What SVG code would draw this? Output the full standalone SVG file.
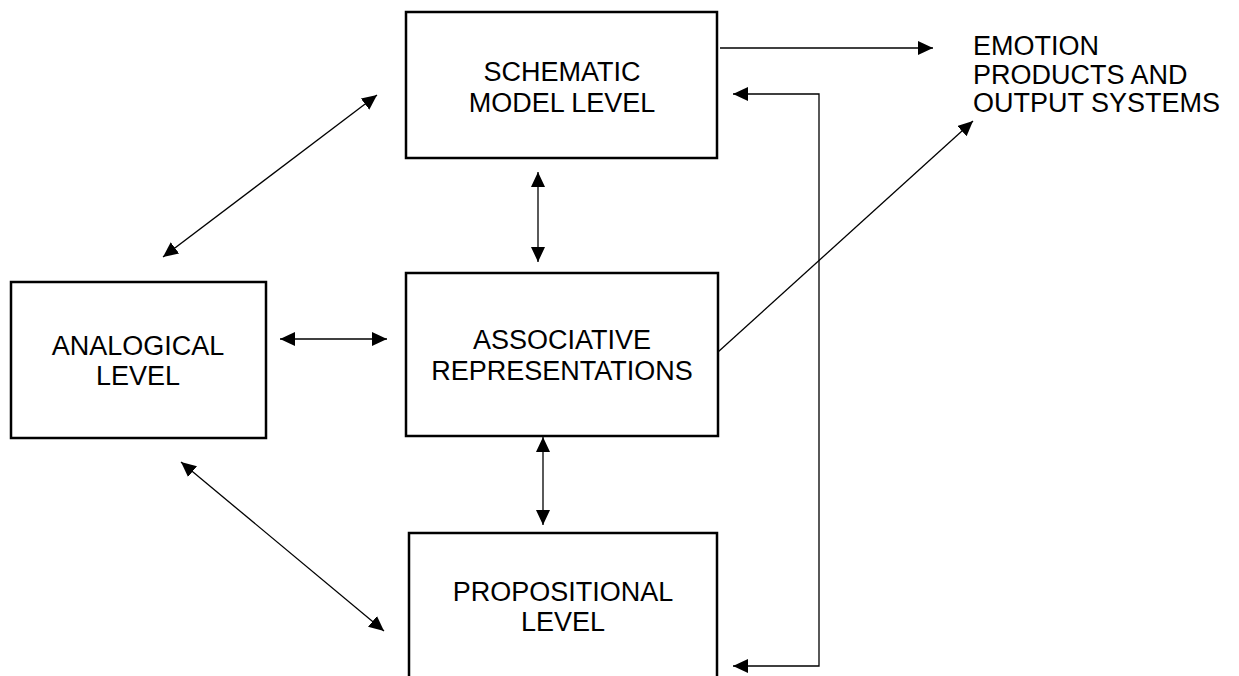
<svg xmlns="http://www.w3.org/2000/svg" width="1239" height="676" viewBox="0 0 1239 676">
  <style>
    .box { fill: #ffffff; stroke: #000000; stroke-width: 2.5; }
    .lbl { font-family: "Liberation Sans", Arial, sans-serif; font-size: 27px; fill: #000000; }
    .mid { text-anchor: middle; }
    .wire { fill: none; stroke: #000000; stroke-width: 1.3; }
  </style>
  <defs>
    <marker id="head" markerUnits="userSpaceOnUse" markerWidth="17" markerHeight="15" refX="15" refY="7" orient="auto-start-reverse">
      <path d="M0,0 L15,7 L0,14 z" fill="#000000"/>
    </marker>
  </defs>
  <rect width="1239" height="676" fill="#ffffff"/>

  <g id="connectors">
    <!-- schematic model level to emotion products -->
    <line class="wire" x1="720" y1="48" x2="933" y2="48" marker-end="url(#head)"/>
    <!-- associative representations to emotion products -->
    <line class="wire" x1="718" y1="352" x2="973" y2="121" marker-end="url(#head)"/>
    <!-- feedback loop from propositional to schematic -->
    <path class="wire" d="M733,666 H819 V94 H733" marker-start="url(#head)" marker-end="url(#head)"/>
    <!-- schematic <-> associative -->
    <line class="wire" x1="538" y1="172" x2="538" y2="262" marker-start="url(#head)" marker-end="url(#head)"/>
    <!-- associative <-> propositional -->
    <line class="wire" x1="543" y1="437" x2="543" y2="525" marker-start="url(#head)" marker-end="url(#head)"/>
    <!-- analogical <-> associative -->
    <line class="wire" x1="280" y1="339" x2="387" y2="339" marker-start="url(#head)" marker-end="url(#head)"/>
    <!-- analogical <-> schematic -->
    <line class="wire" x1="163" y1="257" x2="377" y2="95" marker-start="url(#head)" marker-end="url(#head)"/>
    <!-- analogical <-> propositional -->
    <line class="wire" x1="181" y1="462" x2="384" y2="631" marker-start="url(#head)" marker-end="url(#head)"/>
  </g>

  <g id="schematic">
    <rect class="box" x="406" y="12" width="311" height="146"/>
    <text class="lbl mid" x="562" y="81">SCHEMATIC</text>
    <text class="lbl mid" x="562" y="112">MODEL LEVEL</text>
  </g>

  <g id="analogical">
    <rect class="box" x="11" y="282" width="255" height="156"/>
    <text class="lbl mid" x="138" y="355">ANALOGICAL</text>
    <text class="lbl mid" x="138" y="385">LEVEL</text>
  </g>

  <g id="associative">
    <rect class="box" x="406" y="273" width="312" height="163"/>
    <text class="lbl mid" x="562" y="349">ASSOCIATIVE</text>
    <text class="lbl mid" x="562" y="380">REPRESENTATIONS</text>
  </g>

  <g id="propositional">
    <rect class="box" x="409" y="533" width="308" height="160"/>
    <text class="lbl mid" x="563" y="601">PROPOSITIONAL</text>
    <text class="lbl mid" x="563" y="631">LEVEL</text>
  </g>

  <g id="emotion">
    <text class="lbl" x="973" y="55">EMOTION</text>
    <text class="lbl" x="973" y="83.5">PRODUCTS AND</text>
    <text class="lbl" x="973" y="112">OUTPUT SYSTEMS</text>
  </g>
</svg>
